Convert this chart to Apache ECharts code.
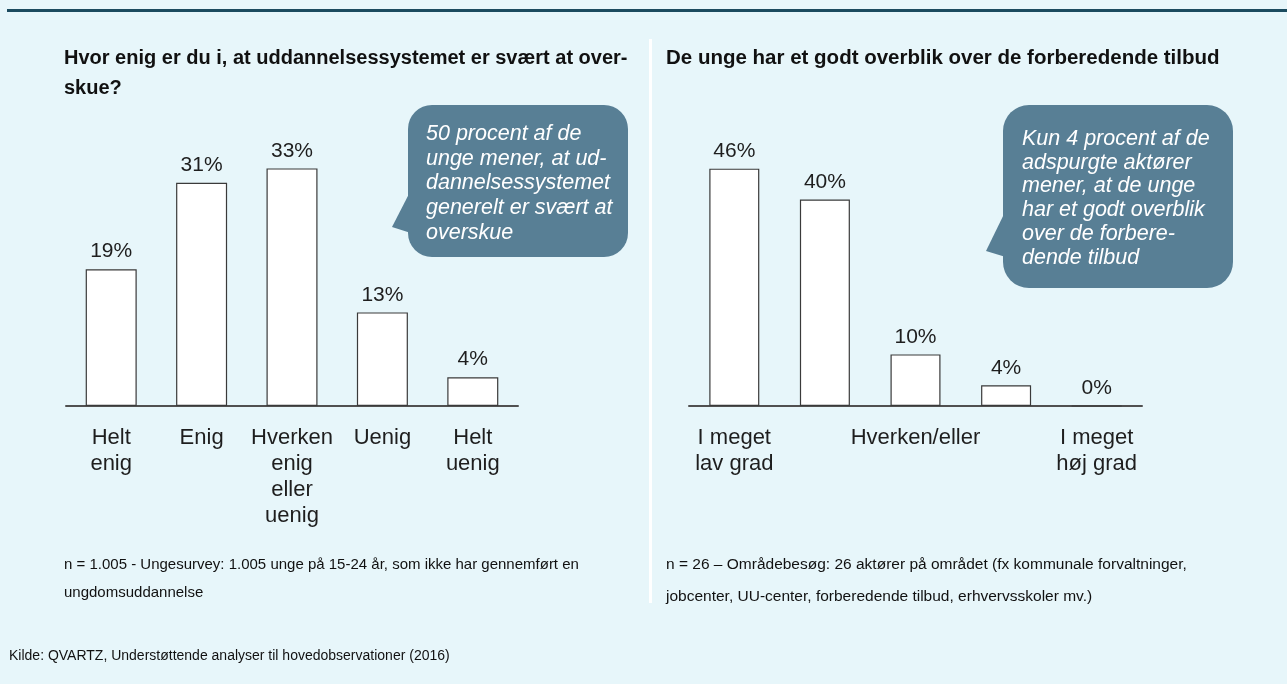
<!DOCTYPE html>
<html>
<head>
<meta charset="utf-8">
<script src="https://cdn.jsdelivr.net/npm/echarts@6/dist/echarts.min.js"></script>
<style>
    html, body {margin: 0; padding: 0; background: #e7f6fa;}
    #chart {width: 1287px; height: 684px;}
</style>
</head>
<body>
<div id="chart"></div>
<script>
// venstre diagram
var leftCategories = ['Helt\nenig', 'Enig', 'Hverken\nenig\neller\nuenig', 'Uenig', 'Helt\nuenig'];
var leftValues = [19, 31, 33, 13, 4];

// hoejre diagram
var rightCategories = ['1', '2', '3', '4', '5'];
var rightTickLabels = ['I meget\nlav grad', '', 'Hverken/eller', '', 'I meget\nhøj grad'];
var rightValues = [46, 40, 10, 4, 0];

var font = "'Liberation Sans', Arial, sans-serif";
var bubbleColor = '#587f95';

var myChart = echarts.init(document.getElementById('chart'));

function barSeries(idx, values, width) {
    return {
        type: 'bar',
        xAxisIndex: idx,
        yAxisIndex: idx,
        data: values,
        barWidth: width,
        silent: true,
        itemStyle: {
            color: '#ffffff',
            borderColor: '#3a3a3a',
            borderWidth: 1.2
        },
        label: {
            show: true,
            position: 'top',
            distance: 7,
            formatter: '{c}%',
            color: '#1e1e1e',
            fontFamily: font,
            fontSize: 21
        }
    };
}

function catAxis(idx, cats, formatter) {
    return {
        type: 'category',
        gridIndex: idx,
        data: cats,
        axisTick: {show: false},
        axisLine: {lineStyle: {color: '#505050', width: 2}},
        axisLabel: {
            interval: 0,
            margin: 19,
            color: '#1e1e1e',
            fontFamily: font,
            fontSize: 22,
            lineHeight: 26,
            formatter: formatter
        }
    };
}

function note(text, x, y, size, lh) {
    return {
        text: text,
        left: x, top: y, padding: 0,
        textStyle: {fontFamily: font, fontSize: size, fontWeight: 'normal', color: '#111', lineHeight: lh}
    };
}

option = {
    backgroundColor: '#e7f6fa',
    animation: false,
    title: [
        {
            text: 'Hvor enig er du i, at uddannelsessystemet er svært at over-\nskue?',
            left: 64, top: 43, padding: 0,
            textStyle: {fontFamily: font, fontSize: 20, fontWeight: 'bold', color: '#111', lineHeight: 30}
        },
        {
            text: 'De unge har et godt overblik over de forberedende tilbud',
            left: 666, top: 43, padding: 0,
            textStyle: {fontFamily: font, fontSize: 20.5, fontWeight: 'bold', color: '#111', lineHeight: 30}
        },
        note('n = 1.005 - Ungesurvey: 1.005 unge på 15-24 år, som ikke har gennemført en\nungdomsuddannelse', 64, 551, 15, 28),
        note('n = 26 – Områdebesøg: 26 aktører på området (fx kommunale forvaltninger,\njobcenter, UU-center, forberedende tilbud, erhvervsskoler mv.)', 666, 549, 15.5, 32),
        note('Kilde: QVARTZ, Understøttende analyser til hovedobservationer (2016)', 9, 647, 14, 18)
    ],
    grid: [
        {left: 66, width: 452, top: 118, height: 288},
        {left: 689, width: 453, top: 96.4, height: 309.6}
    ],
    xAxis: [
        catAxis(0, leftCategories),
        catAxis(1, rightCategories, function (value, index) {
            return rightTickLabels[index];
        })
    ],
    yAxis: [
        {type: 'value', gridIndex: 0, min: 0, max: 40, show: false},
        {type: 'value', gridIndex: 1, min: 0, max: 60, show: false}
    ],
    series: [
        barSeries(0, leftValues, 51),
        barSeries(1, rightValues, 50)
    ],
    graphic: [
        // top linje
        {type: 'rect', shape: {x: 7, y: 9, width: 1280, height: 3}, style: {fill: '#1b4b5f'}, silent: true},
        // hvid skillelinje
        {type: 'rect', shape: {x: 649, y: 39, width: 3, height: 564}, style: {fill: '#ffffff'}, silent: true},
        // boble venstre
        {type: 'polygon', shape: {points: [[411, 190], [392, 227], [414, 234]]}, style: {fill: bubbleColor}, silent: true},
        {type: 'rect', shape: {x: 408, y: 105, width: 220, height: 152, r: 24}, style: {fill: bubbleColor}, silent: true},
        {
            type: 'text', left: 426, top: 122, silent: true,
            style: {
                text: '50 procent af de\nunge mener, at ud-\ndannelsessystemet\ngenerelt er svært at\noverskue',
                fill: '#ffffff', font: 'italic 21.5px ' + font, lineHeight: 24.6
            }
        },
        // boble hoejre
        {type: 'polygon', shape: {points: [[1006, 210], [986, 251], [1009, 258]]}, style: {fill: bubbleColor}, silent: true},
        {type: 'rect', shape: {x: 1003, y: 105, width: 230, height: 183, r: 26}, style: {fill: bubbleColor}, silent: true},
        {
            type: 'text', left: 1022, top: 127, silent: true,
            style: {
                text: 'Kun 4 procent af de\nadspurgte aktører\nmener, at de unge\nhar et godt overblik\nover de forbere-\ndende tilbud',
                fill: '#ffffff', font: 'italic 21.5px ' + font, lineHeight: 23.8
            }
        }
    ]
};
myChart.setOption(option);
</script>
</body>
</html>
